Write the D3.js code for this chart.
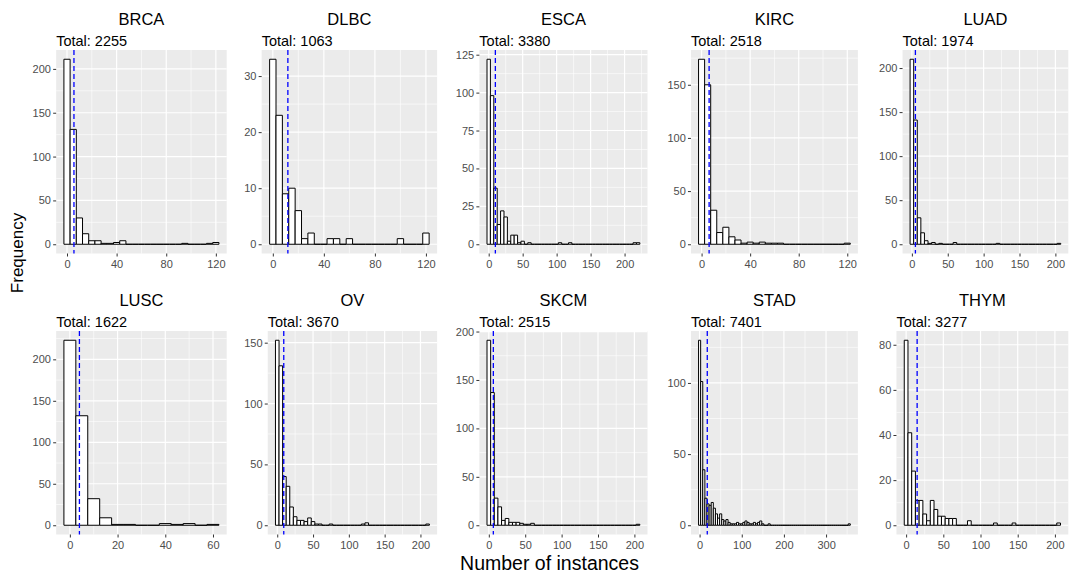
<!DOCTYPE html>
<html>
<head>
<meta charset="utf-8">
<script src="https://cdn.jsdelivr.net/npm/d3@7"></script>
<style>
  body { margin: 0; background: #fff; }
  text { font-family: "Liberation Sans", Arial, Helvetica, sans-serif; }
</style>
</head>
<body>
<svg id="chart" width="1071" height="573"></svg>
<script>
    // ---- data ----
    var panelNames = ["BRCA", "DLBC", "ESCA", "KIRC", "LUAD", "LUSC", "OV", "SKCM", "STAD", "THYM"];
    var panelTotals = [2255, 1063, 3380, 2518, 1974, 1622, 3670, 2515, 7401, 3277];
    var panelMeans = [5.6, 11.8, 9.8, 6.2, 4.9, 4.0, 9.1, 6.2, 18.2, 14.8];
    var binWidth = 5;

    // counts per bin, bins centred on 0, 5, 10, ...
    var brcaCounts = [211, 131, 30, 12, 4, 4, 1, 1, 2, 4, 0, 0, 0, 0, 0, 0, 0, 0, 0, 1, 0, 0, 0, 1, 2];
    var dlbcCounts = [33, 23, 9, 10, 6, 1, 2, 0, 0, 1, 1, 0, 1, 0, 0, 0, 0, 0, 0, 0, 1, 0, 0, 0, 2];
    var escaCounts = [122, 98, 37, 13, 22, 18, 2, 6, 6, 1, 2, 0, 1, 0, 0, 0, 0, 0, 0, 0, 0, 1, 0, 0, 1,
        0, 0, 0, 0, 0, 0, 0, 0, 0, 0, 0, 0, 0, 0, 0, 0, 0, 0, 1, 1];
    var kircCounts = [174, 150, 32, 11, 16, 7, 4, 1, 2, 1, 2, 1, 1, 1, 0, 0, 0, 0, 0, 0, 0, 0, 0, 0, 1];
    var luadCounts = [210, 141, 30, 13, 4, 1, 2, 0, 1, 0, 0, 0, 2, 0, 0, 0, 0, 0, 0, 0, 0, 0, 0, 0, 1,
        0, 0, 0, 0, 0, 0, 0, 0, 0, 0, 0, 0, 0, 0, 0, 0, 1];
    var luscCounts = [223, 132, 32, 9, 1, 1, 0, 0, 2, 1, 2, 0, 1];
    var ovCounts = [152, 131, 40, 32, 15, 7, 4, 4, 3, 6, 3, 1, 1, 0, 0, 1, 0, 0, 0, 0, 0, 0, 0, 0, 1, 2,
        0, 0, 0, 0, 0, 0, 0, 0, 0, 0, 0, 0, 0, 0, 0, 0, 1];
    var skcmCounts = [191, 137, 28, 19, 5, 7, 3, 3, 3, 2, 1, 1, 2, 0, 0, 0, 0, 0, 0, 0, 0, 0, 0, 0, 0,
        0, 0, 0, 0, 0, 0, 0, 0, 0, 0, 0, 0, 0, 0, 0, 0, 1];
    var stadCounts = [130, 101, 39, 19, 15, 14, 16, 12, 8, 5, 8, 4, 3, 4, 2, 1, 1, 1, 2, 1, 1, 2, 3, 2,
        1, 1, 2, 1, 2, 3, 1, 0, 0, 1, 0, 0, 0, 0, 0, 0, 0, 0, 0, 0, 0, 0, 0, 0, 0, 0, 0, 0, 0, 0, 0, 0,
        0, 0, 0, 0, 0, 0, 0, 0, 0, 0, 0, 0, 0, 0, 0, 1];
    var thymCounts = [82, 41, 24, 11, 11, 5, 2, 11, 7, 4, 4, 3, 3, 3, 0, 0, 0, 2, 0, 0, 0, 0, 0, 0, 1,
        0, 0, 0, 0, 1, 0, 0, 0, 0, 0, 0, 0, 0, 0, 0, 0, 1];

    var yTickValues = [
        [0, 50, 100, 150, 200], [0, 10, 20, 30], [0, 25, 50, 75, 100, 125], [0, 50, 100, 150], [0, 50, 100, 150, 200],
        [0, 50, 100, 150, 200], [0, 50, 100, 150], [0, 50, 100, 150, 200], [0, 50, 100], [0, 20, 40, 60, 80]
    ];
    var xTickValues = [
        [0, 40, 80, 120], [0, 40, 80, 120], [0, 50, 100, 150, 200], [0, 40, 80, 120], [0, 50, 100, 150, 200],
        [0, 20, 40, 60], [0, 50, 100, 150, 200], [0, 50, 100, 150, 200], [0, 100, 200, 300], [0, 50, 100, 150, 200]
    ];

    var panelCounts = [brcaCounts, dlbcCounts, escaCounts, kircCounts, luadCounts,
        luscCounts, ovCounts, skcmCounts, stadCounts, thymCounts];

    // ---- layout ----
    var svg = d3.select("#chart");
    var labelLeft0 = 32.6, colStepLeft = 211.6;
    var panelRight0 = 226.7, colStepRight = 210.4;
    var rowTops = [50, 331];
    var panelH = 203.5;
    var tickLen = 3, tickPad = 2.2;

    function minorBreaks(majors, domain) {
        var step = majors[1] - majors[0];
        var out = [];
        for (var v = majors[0] - step / 2; v <= majors[majors.length - 1] + step / 2 + 1e-9; v += step) {
            if (v >= domain[0] && v <= domain[1]) out.push(v);
        }
        return out;
    }

    panelNames.forEach(function(name, i) {
        var col = i % 5, row = Math.floor(i / 5);
        var counts = panelCounts[i];
        var bins = counts.map(function(c, k) {
            return { x0: k * binWidth - binWidth / 2, x1: k * binWidth + binWidth / 2, n: c };
        });

        var top = rowTops[row], bottom = top + panelH;
        var maxN = d3.max(counts);
        var y = d3.scaleLinear().domain([-0.05 * maxN, 1.05 * maxN]).range([bottom, top]);

        var g = svg.append("g");
        var bgLayer = g.append("g");
        var markLayer = g.append("g");

        // y axis first so we can measure the labels
        var yAxisG = g.append("g")
            .call(d3.axisLeft(y).tickValues(yTickValues[i]).tickSize(tickLen).tickPadding(tickPad));
        yAxisG.select(".domain").remove();
        yAxisG.selectAll("text").attr("fill", "#4D4D4D").style("font-size", "11px");
        var maxW = d3.max(yAxisG.selectAll("text").nodes(), function(n) { return n.getComputedTextLength(); });

        var left = labelLeft0 + col * colStepLeft + maxW + tickLen + tickPad;
        var right = panelRight0 + col * colStepRight;
        yAxisG.attr("transform", "translate(" + left + ",0)");
        yAxisG.selectAll(".tick line").attr("stroke", "#333333");

        var lo = bins[0].x0, hi = bins[bins.length - 1].x1, span = hi - lo;
        var x = d3.scaleLinear().domain([lo - 0.05 * span, hi + 0.05 * span]).range([left, right]);

        // panel background and grid
        bgLayer.append("rect")
            .attr("x", left).attr("y", top)
            .attr("width", right - left).attr("height", panelH)
            .attr("fill", "#EBEBEB");

        var xMinor = minorBreaks(xTickValues[i], x.domain());
        var yMinor = minorBreaks(yTickValues[i], y.domain());
        bgLayer.selectAll(".xminor").data(xMinor).enter().append("line")
            .attr("x1", x).attr("x2", x).attr("y1", top).attr("y2", bottom)
            .attr("stroke", "#fff").attr("stroke-width", 0.6);
        bgLayer.selectAll(".yminor").data(yMinor).enter().append("line")
            .attr("x1", left).attr("x2", right).attr("y1", y).attr("y2", y)
            .attr("stroke", "#fff").attr("stroke-width", 0.6);
        bgLayer.selectAll(".xmajor").data(xTickValues[i]).enter().append("line")
            .attr("x1", x).attr("x2", x).attr("y1", top).attr("y2", bottom)
            .attr("stroke", "#fff").attr("stroke-width", 1.2);
        bgLayer.selectAll(".ymajor").data(yTickValues[i]).enter().append("line")
            .attr("x1", left).attr("x2", right).attr("y1", y).attr("y2", y)
            .attr("stroke", "#fff").attr("stroke-width", 1.2);

        // histogram bars (paths so empty bins still show as a line)
        markLayer.selectAll("path.bar").data(bins).enter().append("path")
            .attr("class", "bar")
            .attr("d", function(d) {
                var x0 = x(d.x0), x1 = x(d.x1), y0 = y(0), y1 = y(d.n);
                return "M" + x0 + "," + y0 + "V" + y1 + "H" + x1 + "V" + y0 + "Z";
            })
            .attr("fill", "#fff")
            .attr("stroke", "#000")
            .attr("stroke-width", 1.0);

        // mean line
        markLayer.append("line")
            .attr("x1", x(panelMeans[i])).attr("x2", x(panelMeans[i]))
            .attr("y1", top).attr("y2", bottom)
            .attr("stroke", "#0000FF")
            .attr("stroke-width", 1.3)
            .attr("stroke-dasharray", "5,3");

        // x axis
        var xAxisG = g.append("g")
            .attr("transform", "translate(0," + bottom + ")")
            .call(d3.axisBottom(x).tickValues(xTickValues[i]).tickSize(tickLen).tickPadding(3.5));
        xAxisG.select(".domain").remove();
        xAxisG.selectAll(".tick line").attr("stroke", "#333333");
        xAxisG.selectAll("text").attr("fill", "#4D4D4D").style("font-size", "11px");

        // titles
        g.append("text")
            .attr("x", (left + right) / 2).attr("y", top - 25)
            .attr("text-anchor", "middle")
            .style("font-size", "16.5px")
            .text(name);
        g.append("text")
            .attr("x", left).attr("y", top - 4.3)
            .style("font-size", "14.5px")
            .text("Total: " + panelTotals[i]);
    });

    svg.append("text")
        .attr("transform", "translate(23,253) rotate(-90)")
        .attr("text-anchor", "middle")
        .style("font-size", "17px")
        .text("Frequency");

    svg.append("text")
        .attr("x", 549.5).attr("y", 570)
        .attr("text-anchor", "middle")
        .style("font-size", "19.5px")
        .text("Number of instances");
</script>
</body>
</html>
